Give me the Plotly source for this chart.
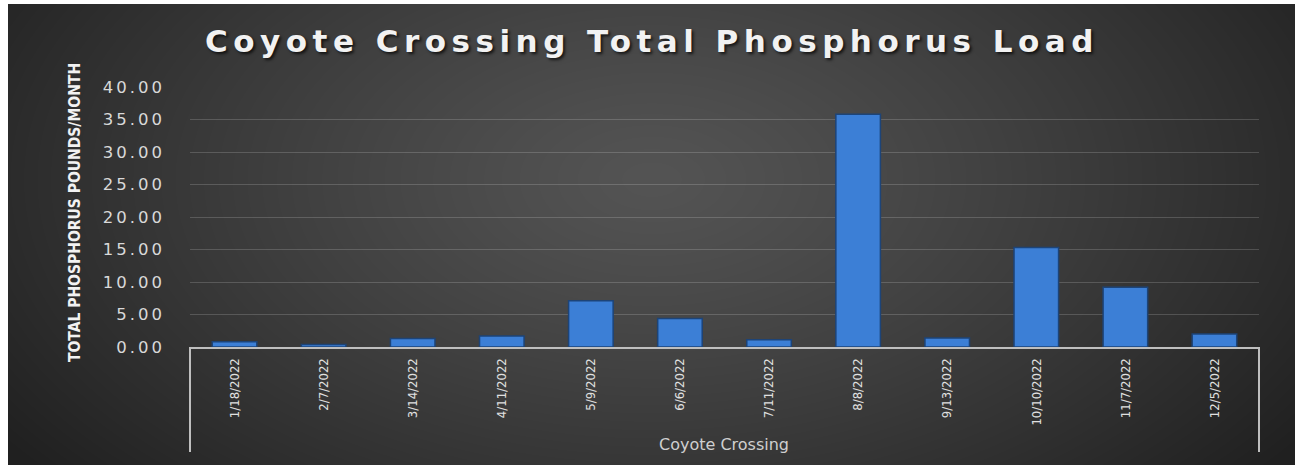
import zlib, struct, base64
import numpy as np
import plotly.graph_objects as go

# ---- data ----
dates = ["1/18/2022", "2/7/2022", "3/14/2022", "4/11/2022", "5/9/2022", "6/6/2022",
         "7/11/2022", "8/8/2022", "9/13/2022", "10/10/2022", "11/7/2022", "12/5/2022"]
loads = [0.8, 0.4, 1.3, 1.7, 7.1, 4.4, 1.1, 35.8, 1.4, 15.3, 9.2, 2.0]
y_ticks = [0, 5, 10, 15, 20, 25, 30, 35, 40]
y_tick_text = [f"{v:.2f}" for v in y_ticks]
group_label = "Coyote Crossing"
title_text = "Coyote Crossing Total Phosphorus Load"
y_title = "TOTAL PHOSPHORUS POUNDS/MONTH"

# ---- figure geometry ----
FW, FH = 1295, 465
ML, MR, MT, MB = 190, 36, 87, 118
PW, PH = FW - ML - MR, FH - MT - MB

# ---- radial gradient background as PNG ----
BW, BH = 1287, 461
yy, xx = np.mgrid[0:BH, 0:BW]
cx, cy = BW * 0.5, BH * 0.38
d = np.sqrt(((xx - cx) / (BW * 0.62)) ** 2 + ((yy - cy) / (BH * 1.0)) ** 2)
val = (84 - 52 * np.clip(d, 0, 1) ** 1.2).astype(np.uint8)
raw = b"".join(b"\x00" + val[r].tobytes() for r in range(BH))
def chunk(t, data):
    c = struct.pack(">I", len(data)) + t + data
    return c + struct.pack(">I", zlib.crc32(t + data) & 0xffffffff)
png = (b"\x89PNG\r\n\x1a\n" + chunk(b"IHDR", struct.pack(">IIBBBBB", BW, BH, 8, 0, 0, 0, 0))
       + chunk(b"IDAT", zlib.compress(raw, 9)) + chunk(b"IEND", b""))
bg_uri = "data:image/png;base64," + base64.b64encode(png).decode()

fig = go.Figure()
fig.add_trace(go.Bar(
    x=dates, y=loads, width=0.5,
    marker=dict(color="#3c7fd6", line=dict(color="#1d4478", width=1.5)),
))

fig.add_layout_image(dict(
    source=bg_uri, xref="paper", yref="paper",
    x=(8 - ML) / PW, y=(FH - MB - 4) / PH,
    sizex=BW / PW, sizey=BH / PH,
    xanchor="left", yanchor="top", sizing="stretch", layer="below",
))

fig.update_layout(
    width=FW, height=FH,
    margin=dict(l=ML, r=MR, t=MT, b=MB),
    paper_bgcolor="white", plot_bgcolor="rgba(0,0,0,0)",
    showlegend=False,
    title=dict(text=title_text, x=(652) / FW, xref="container", xanchor="center",
               y=1 - 41 / FH, yref="container", yanchor="middle",
               font=dict(family="DejaVu Sans", size=31, color="#f2f2f2",
                         weight="bold", shadow="2px 2px 3px rgba(0,0,0,0.7)")),
    xaxis=dict(
        type="category", tickangle=-90, showgrid=False,
        showline=True, linecolor="#bfbfbf", linewidth=2,
        ticks="", tickfont=dict(family="DejaVu Sans Condensed", size=13, color="#e0e0e0"),
        ticklabelstandoff=4,
    ),
    yaxis=dict(
        range=[0, 40], tickvals=y_ticks, ticktext=y_tick_text,
        showgrid=True, gridcolor="rgba(255,255,255,0.17)", gridwidth=1,
        zeroline=False, showline=False, ticks="",
        tickfont=dict(family="DejaVu Sans", size=16.5, color="#d9d9d9"),
        ticklabelstandoff=24,
    ),
    annotations=[
        dict(text=y_title, textangle=-90, xref="paper", yref="paper",
             x=(75 - ML) / PW, y=(FH - MB - 212) / PH, showarrow=False,
             xanchor="center", yanchor="middle",
             font=dict(family="DejaVu Sans Condensed", size=15.5,
                       color="#f2f2f2", weight="bold")),
        dict(text=group_label, xref="paper", yref="paper",
             x=(724 - ML) / PW, y=(FH - MB - 444) / PH, showarrow=False,
             xanchor="center", yanchor="middle",
             font=dict(family="DejaVu Sans", size=16, color="#cfcfcf")),
    ],
    shapes=[
        dict(type="line", xref="paper", yref="paper", x0=0, x1=0,
             y0=0, y1=(FH - MB - 452) / PH, line=dict(color="#bfbfbf", width=2)),
        dict(type="line", xref="paper", yref="paper", x0=1, x1=1,
             y0=0, y1=(FH - MB - 452) / PH, line=dict(color="#bfbfbf", width=2)),
    ],
)

post = ("document.body.style.margin='0';"
        "var s=document.createElement('style');"
        "s.textContent='.gtitle{letter-spacing:5.5px} .ytick text{letter-spacing:3px}';"
        "document.head.appendChild(s);")

fig.write_html("out.html", post_script=post, config={"displayModeBar": False})
